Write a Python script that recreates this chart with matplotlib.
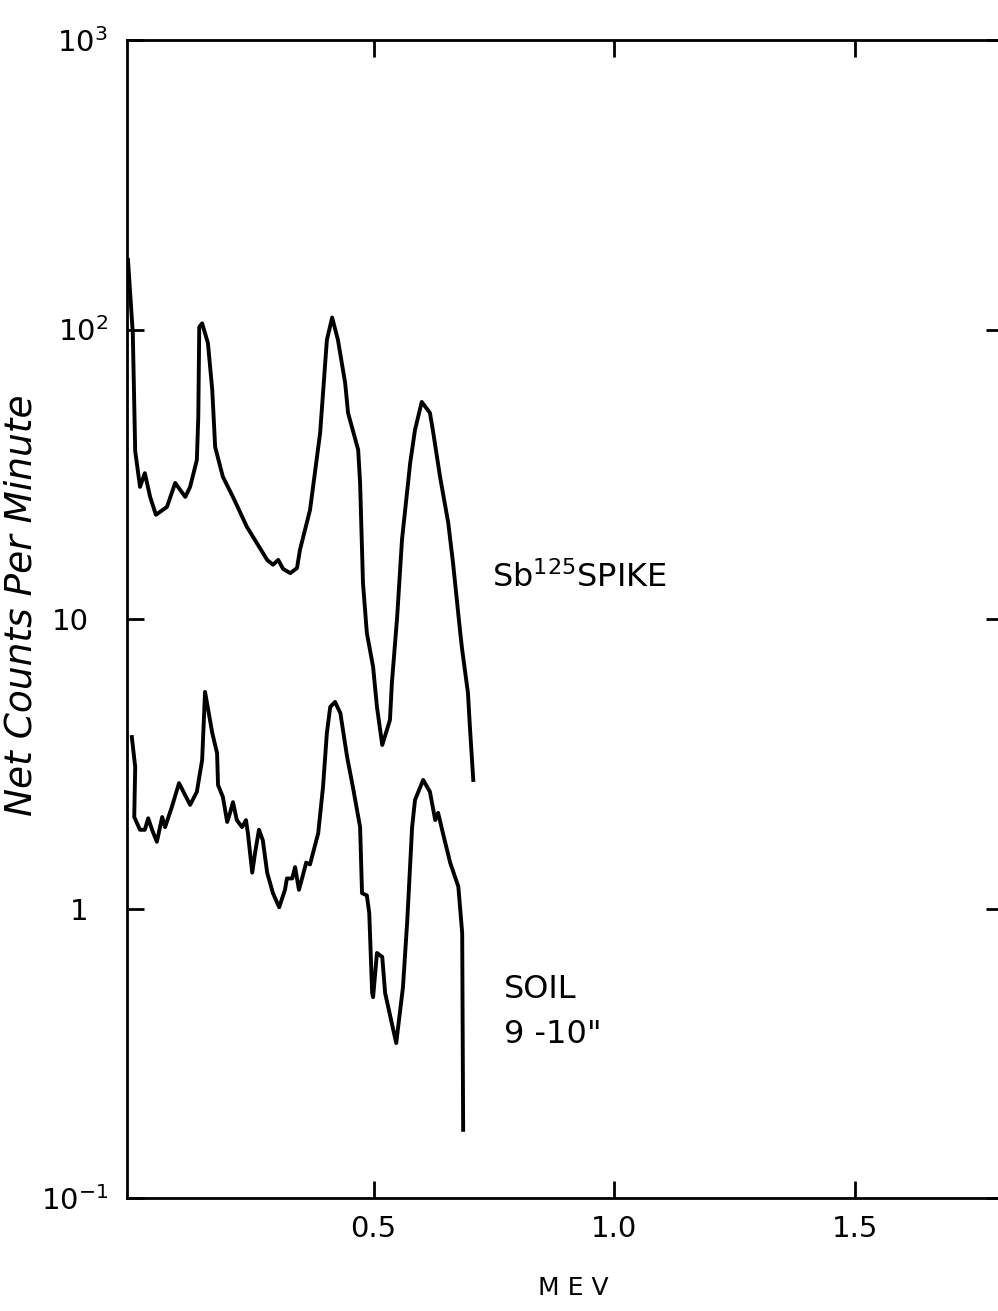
import matplotlib
matplotlib.use("Agg")
import matplotlib.pyplot as plt
from matplotlib.ticker import NullLocator
from matplotlib.transforms import ScaledTranslation

plt.rcParams['font.family'] = ['DejaVu Sans']
plt.rcParams['mathtext.default'] = 'regular'

# Sb-125 spike spectrum (MeV, net counts per minute)
spike_mev = [-0.010, 0.000, 0.005, 0.015, 0.025, 0.036, 0.048, 0.071, 0.088, 0.109,
             0.119, 0.133, 0.136, 0.138, 0.144, 0.156, 0.165, 0.171, 0.187, 0.208,
             0.237, 0.279, 0.291, 0.302, 0.312, 0.327, 0.341, 0.347, 0.368, 0.389,
             0.403, 0.414, 0.426, 0.441, 0.447, 0.468, 0.472, 0.478, 0.486, 0.499,
             0.507, 0.518, 0.534, 0.538, 0.549, 0.559, 0.576, 0.586, 0.600, 0.617,
             0.623, 0.638, 0.655, 0.665, 0.680, 0.684, 0.696, 0.700, 0.707]
spike_cpm = [174, 97, 38, 28.6, 31.9, 26.4, 22.9, 24.4, 29.5, 26.4,
             28.6, 35.4, 49.9, 102, 105, 89.8, 61.8, 39.3, 31.0, 26.4,
             20.8, 16.0, 15.4, 16.0, 14.9, 14.4, 15.0, 17.3, 23.8, 43.9,
             92, 110, 92, 65.3, 51.5, 38.4, 29.5, 13.3, 8.95, 6.83,
             4.97, 3.67, 4.48, 6.01, 10.2, 18.8, 34.6, 45.0, 56.2, 51.5,
             45.0, 31.0, 21.5, 15.6, 8.95, 7.82, 5.55, 4.24, 2.78]

# soil sample 9-10"
soil_mev = [-0.002, 0.005, 0.003, 0.015, 0.025, 0.032, 0.040, 0.050, 0.061, 0.067,
            0.081, 0.096, 0.119, 0.133, 0.144, 0.150, 0.165, 0.175, 0.177, 0.187,
            0.196, 0.202, 0.208, 0.216, 0.227, 0.235, 0.239, 0.248, 0.254, 0.262,
            0.270, 0.279, 0.291, 0.304, 0.316, 0.320, 0.331, 0.337, 0.345, 0.352,
            0.360, 0.368, 0.385, 0.395, 0.403, 0.410, 0.420, 0.431, 0.445, 0.457,
            0.472, 0.476, 0.486, 0.491, 0.497, 0.499, 0.507, 0.518, 0.524, 0.547,
            0.561, 0.570, 0.580, 0.586, 0.603, 0.617, 0.628, 0.634, 0.644, 0.659,
            0.676, 0.684, 0.686]
soil_cpm = [3.91, 3.08, 2.07, 1.87, 1.87, 2.05, 1.87, 1.70, 2.07, 1.91,
            2.24, 2.71, 2.28, 2.53, 3.26, 5.60, 4.04, 3.44, 2.67, 2.43,
            1.99, 2.14, 2.33, 2.02, 1.91, 2.02, 1.82, 1.33, 1.56, 1.87,
            1.72, 1.33, 1.13, 1.01, 1.16, 1.27, 1.27, 1.39, 1.16, 1.28,
            1.44, 1.42, 1.82, 2.63, 4.04, 4.97, 5.17, 4.73, 3.34, 2.63,
            1.91, 1.13, 1.11, 0.965, 0.511, 0.494, 0.702, 0.68, 0.51, 0.343,
            0.535, 0.912, 1.91, 2.37, 2.78, 2.53, 2.02, 2.14, 1.82, 1.44,
            1.19, 0.822, 0.172]

x_ticks = [0.5, 1.0, 1.5]
x_tick_labels = ['0.5', '1.0', '1.5']
y_ticks = [0.1, 1, 10, 100, 1000]
y_tick_labels = ['$10^{-1}$', '1', '10', '$10^2$', '$10^3$']

W, H = 998, 1311
fig = plt.figure(figsize=(W / 100, H / 100), dpi=100)
left, right, top, bottom = 127.5, 1003, 40, 1198
ax = fig.add_axes([left / W, 1 - bottom / H, (right - left) / W, (bottom - top) / H])

ax.plot(spike_mev, spike_cpm, color='black', lw=2.8, solid_joinstyle='round')
ax.plot(soil_mev, soil_cpm, color='black', lw=2.8, solid_joinstyle='round')

ax.set_yscale('log')
ax.set_xlim(-0.011, 1.807)
ax.set_ylim(0.1, 1000)
ax.set_xticks(x_ticks, x_tick_labels)
ax.set_yticks(y_ticks, y_tick_labels)
ax.yaxis.set_minor_locator(NullLocator())
ax.xaxis.set_minor_locator(NullLocator())
ax.tick_params(direction='in', length=12, width=2, top=True, right=True,
               labelsize=21, color='black')
ax.tick_params(axis='x', pad=12)
ax.tick_params(axis='y', pad=14)
for s in ax.spines.values():
    s.set_linewidth(2)
ax.spines['right'].set_visible(False)

# plain labels sit a bit further left in the original
shift = ScaledTranslation(-14 / 72, 0, fig.dpi_scale_trans)
for lbl in ax.get_yticklabels():
    if lbl.get_text() in ('1', '10'):
        lbl.set_transform(lbl.get_transform() + shift)

fig.text(22 / W, 1 - 605 / H, 'Net Counts Per Minute', rotation=90, style='italic',
         fontsize=27, ha='center', va='center')
fig.text(573 / W, 1 - 1288 / H, 'M E V', fontsize=18, ha='center', va='center')
fig.text(492 / W, 1 - 587 / H, 'Sb$^{125}$SPIKE', fontsize=23, ha='left', va='baseline')
fig.text(504 / W, 1 - 998 / H, 'SOIL', fontsize=23, ha='left', va='baseline')
fig.text(504 / W, 1 - 1043 / H, '9 -10"', fontsize=23, ha='left', va='baseline')

fig.savefig('out.png', dpi=100)
